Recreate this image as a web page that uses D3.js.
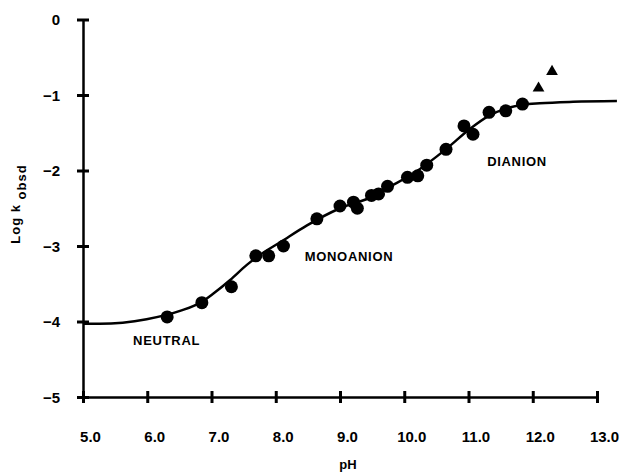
<!DOCTYPE html>
<html>
<head>
<meta charset="utf-8">
<script src="https://cdn.jsdelivr.net/npm/d3@7"></script>
<style>
  body { margin: 0; background: white; }
  .axis path, .axis line { stroke: black; }
  .axis text { font-family: "Liberation Sans", Arial, sans-serif; font-weight: bold; font-size: 15px; fill: black; }
  .label { font-family: "Liberation Sans", Arial, sans-serif; font-weight: bold; fill: black; }
</style>
</head>
<body>
<script>

// tick values and their printed labels
var xTicks = [5, 6, 7, 8, 9, 10, 11, 12, 13];
var xTickLabels = ["5.0", "6.0", "7.0", "8.0", "9.0", "10.0", "11.0", "12.0", "13.0"];
var yTicks = [0, -1, -2, -3, -4, -5];
var yTickLabels = ["0", "\u22121", "\u22122", "\u22123", "\u22124", "\u22125"];

// measured rate constants (filled circles)
var pH = [6.31, 6.85, 7.31, 7.69, 7.89, 8.12, 8.64, 9.00, 9.21, 9.27, 9.49, 9.60, 9.74,
          10.05, 10.21, 10.35, 10.65, 10.93, 11.07, 11.32, 11.58, 11.84];
var logK = [-3.94, -3.75, -3.54, -3.13, -3.13, -3.00, -2.64, -2.47, -2.42, -2.50, -2.33, -2.31, -2.21,
            -2.09, -2.07, -1.93, -1.72, -1.41, -1.52, -1.23, -1.21, -1.12];

// points off the curve (triangles)
var triPH = [12.09, 12.30];
var triLogK = [-0.91, -0.69];

// fitted curve
var curvePH = [5.00, 5.26, 5.99, 6.51, 6.85, 7.03, 7.29, 7.55, 7.75, 8.07, 8.48, 9.00, 9.52,
               9.72, 10.14, 10.66, 11.02, 11.33, 11.58, 11.85, 12.11, 12.63, 13.31];
var curveLogK = [-4.03, -4.03, -3.97, -3.86, -3.74, -3.63, -3.45, -3.25, -3.12, -2.95, -2.73, -2.50, -2.34,
                 -2.24, -2.04, -1.71, -1.45, -1.27, -1.18, -1.13, -1.11, -1.09, -1.08];

// region labels
var regionNames = ["NEUTRAL", "MONOANION", "DIANION"];
var regionPH = [5.78, 8.45, 11.29];
var regionLogK = [-4.31, -3.2, -1.94];

window.onload = function() {

  var w = 640;
  var h = 472;

  var svg = d3.select("body")
              .append("svg")
              .attr("width", w)
              .attr("height", h);

  var xScale = d3.scaleLinear()
                 .domain([5, 13])
                 .range([83, 597]);

  var yScale = d3.scaleLinear()
                 .domain([-5, 0])
                 .range([397, 19.5]);

  // x-axis, ticks cross the line
  var xAxis = svg.append("g")
                 .attr("class", "axis")
                 .attr("transform", "translate(0," + yScale(-5) + ")")
                 .call(d3.axisBottom(xScale)
                         .tickValues(xTicks)
                         .tickSizeOuter(0)
                         .tickFormat(function(d, i) { return xTickLabels[i]; }));
  xAxis.select(".domain").attr("stroke-width", 2.5);
  xAxis.selectAll(".tick line").attr("y1", -6).attr("y2", 6).attr("stroke-width", 3);
  xAxis.selectAll(".tick text").attr("y", 45).attr("dy", 0).attr("dx", 7);

  // y-axis
  var yAxis = svg.append("g")
                 .attr("class", "axis")
                 .attr("transform", "translate(" + xScale(5) + ",0)")
                 .call(d3.axisLeft(yScale)
                         .tickValues(yTicks)
                         .tickSizeOuter(0)
                         .tickFormat(function(d, i) { return yTickLabels[i]; }));
  yAxis.select(".domain").attr("stroke-width", 2.5);
  yAxis.selectAll(".tick line").attr("x1", -6).attr("x2", 6).attr("stroke-width", 3);
  yAxis.selectAll(".tick text").attr("x", -23).attr("dy", "0.35em");

  // axis titles
  svg.append("text")
     .attr("class", "label")
     .attr("x", 348)
     .attr("y", 469)
     .attr("text-anchor", "middle")
     .style("font-size", "13px")
     .text("pH");

  var yTitle = svg.append("text")
                  .attr("class", "label")
                  .attr("transform", "translate(20, 204) rotate(-90)")
                  .attr("text-anchor", "middle")
                  .style("font-size", "13px")
                  .style("letter-spacing", "1px");
  yTitle.append("tspan").text("Log k ");
  yTitle.append("tspan").attr("dy", 6).text("obsd");

  // fitted curve
  var line = d3.line()
               .x(function(d) { return xScale(d[0]); })
               .y(function(d) { return yScale(d[1]); })
               .curve(d3.curveMonotoneX);

  svg.append("path")
     .datum(d3.zip(curvePH, curveLogK))
     .attr("d", line)
     .attr("fill", "none")
     .attr("stroke", "black")
     .attr("stroke-width", 2.5);

  // dots
  svg.selectAll(".dot")
     .data(d3.zip(pH, logK))
     .enter().append("circle")
     .attr("class", "dot")
     .attr("r", 6.5)
     .attr("cx", function(d) { return xScale(d[0]); })
     .attr("cy", function(d) { return yScale(d[1]); })
     .attr("fill", "black");

  // triangles
  svg.selectAll(".tri")
     .data(d3.zip(triPH, triLogK))
     .enter().append("path")
     .attr("class", "tri")
     .attr("d", d3.symbol().type(d3.symbolTriangle).size(60))
     .attr("transform", function(d) {
       return "translate(" + xScale(d[0]) + "," + yScale(d[1]) + ")";
     })
     .attr("fill", "black");

  // region labels
  svg.selectAll(".region")
     .data(regionNames)
     .enter().append("text")
     .attr("class", "label region")
     .attr("x", function(d, i) { return xScale(regionPH[i]); })
     .attr("y", function(d, i) { return yScale(regionLogK[i]); })
     .style("font-size", "13px")
     .style("letter-spacing", "0.7px")
     .text(function(d) { return d; });
};
</script>
</body>
</html>
